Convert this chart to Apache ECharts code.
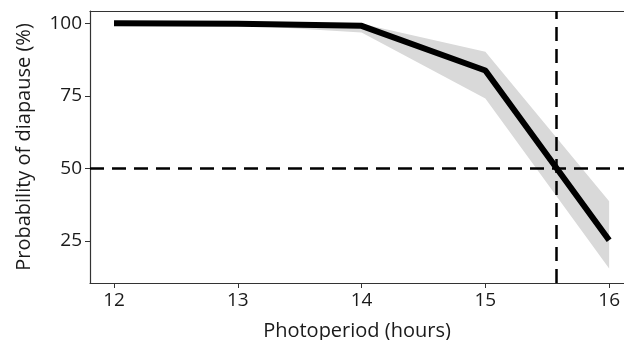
<!DOCTYPE html>
<html>
<head>
<meta charset="utf-8">
<script src="https://cdn.jsdelivr.net/npm/echarts@6/dist/echarts.min.js"></script>
<style>
  html, body { margin: 0; padding: 0; background: #fff; }
  #chart { width: 624px; height: 340px; }
</style>
</head>
<body>
<div id="chart"></div>
<script>
// photoperiod (hours)
const hours = [12, 13, 14, 15, 16];
// fitted probability of diapause (%)
const prob = [100, 99.8, 99.1, 83.7, 25.2];
// confidence band
const lower = [99.9, 99.4, 96.8, 74.1, 15.5];
const upper = [100, 100, 99.8, 90.2, 38.7];
const xTicks = [12, 13, 14, 15, 16];
const yTicks = [25, 50, 75, 100];
const cutY = 50;
const cutX = 15.573;

const font = "'Open Sans', 'Noto Sans', sans-serif";
const pair = (xs, ys) => xs.map((x, i) => [x, ys[i]]);

const chart = echarts.init(document.getElementById("chart"));
chart.setOption({
  animation: false,
  grid: { left: 90, right: 0, top: 11, bottom: 57, containLabel: false, outerBoundsMode: "none" },
  xAxis: [
    {
      type: "value",
      min: 11.806,
      max: 16.12,
      name: "Photoperiod (hours)",
      nameLocation: "middle",
      nameGap: 38,
      nameTextStyle: { fontFamily: font, fontSize: 20, color: "#1a1a1a" },
      axisLine: { lineStyle: { color: "#333", width: 1.2 } },
      axisTick: { customValues: xTicks, length: 5, lineStyle: { color: "#333" } },
      axisLabel: { customValues: xTicks, fontFamily: font, fontSize: 19, color: "#1a1a1a", margin: 8 },
      splitLine: { show: false },
    },
    {
      type: "value",
      position: "top",
      min: 11.806,
      max: 16.12,
      axisLine: { show: true, lineStyle: { color: "#333", width: 1.2 } },
      axisTick: { show: false },
      axisLabel: { show: false },
      splitLine: { show: false },
    },
  ],
  yAxis: {
    type: "value",
    min: 10.5,
    max: 104.2,
    name: "Probability of diapause (%)",
    nameLocation: "middle",
    nameGap: 56,
    nameTextStyle: { fontFamily: font, fontSize: 20, color: "#1a1a1a" },
    axisLine: { show: true, lineStyle: { color: "#333", width: 1.2 } },
    axisTick: { show: true, customValues: yTicks, length: 5, lineStyle: { color: "#333" } },
    axisLabel: { customValues: yTicks, fontFamily: font, fontSize: 19, color: "#1a1a1a", margin: 8 },
    splitLine: { show: false },
  },
  series: [
    {
      // confidence band polygon
      type: "custom",
      silent: true,
      data: hours.map((h, i) => [h, lower[i], upper[i]]),
      renderItem: (params, api) => {
        if (params.dataIndex !== 0) return null;
        const top = hours.map((h, i) => api.coord([h, upper[i]]));
        const bot = hours.map((h, i) => api.coord([h, lower[i]])).reverse();
        return {
          type: "polygon",
          shape: { points: top.concat(bot) },
          style: { fill: "#d9d9d9" },
        };
      },
      z: 1,
    },
    {
      type: "line",
      data: pair(hours, prob),
      symbol: "none",
      lineStyle: { color: "#000", width: 6 },
      z: 5,
      markLine: {
        symbol: "none",
        silent: true,
        label: { show: false },
        lineStyle: { color: "#000", width: 2.5, type: [14, 8] },
        data: [{ yAxis: cutY }, { xAxis: cutX }],
      },
    },
  ],
});
</script>
</body>
</html>
